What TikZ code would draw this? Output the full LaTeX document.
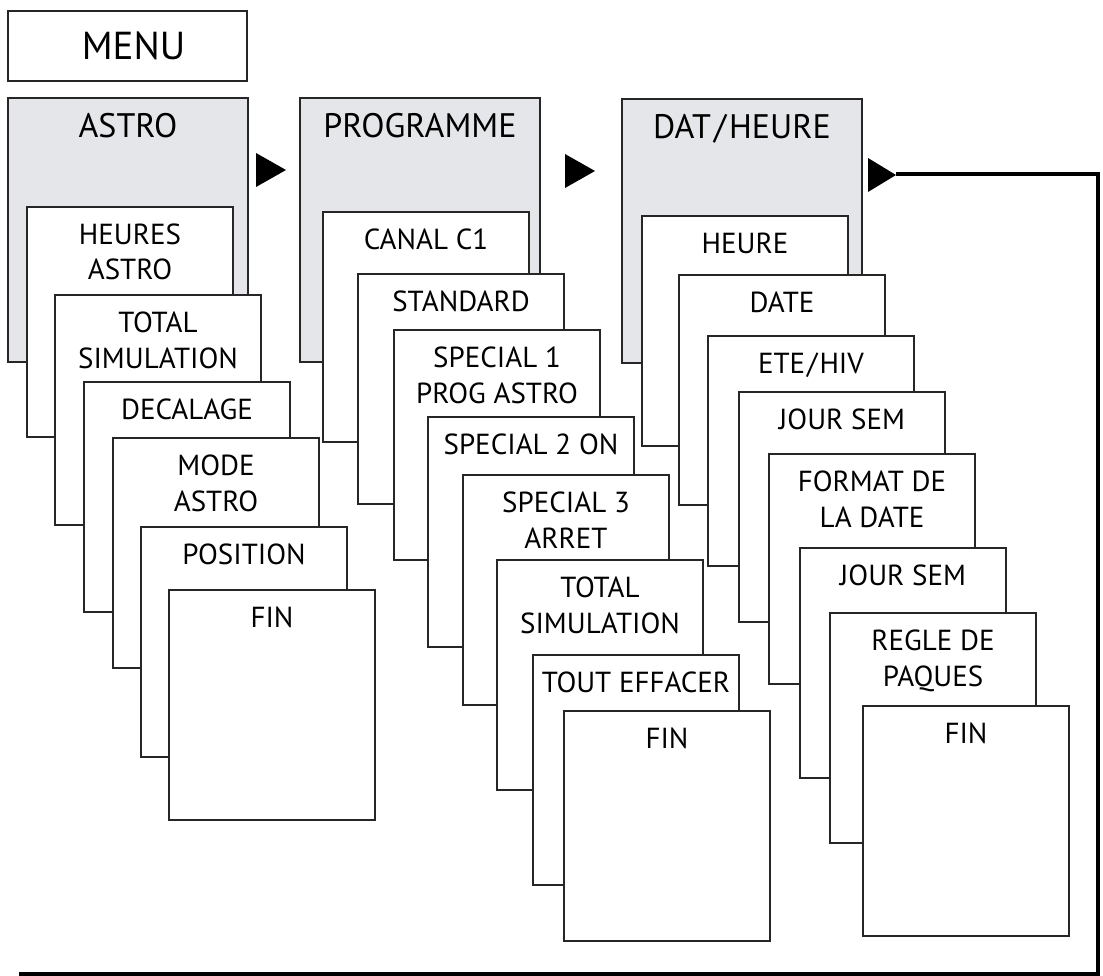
\documentclass[tikz,border=0pt]{standalone}
\usepackage{fontspec}
\setmainfont{PT Sans}
\definecolor{headgray}{RGB}{229,230,233}
\definecolor{linegray}{RGB}{38,38,38}
\newcommand\itemfont{\fontsize{29}{36}\selectfont}
\newcommand\headfont{\fontsize{34}{40}\selectfont}
\newcommand\menufont{\fontsize{39}{44}\selectfont}
\newcommand\boxtxt[1]{\parbox[c][230pt][t]{206pt}{\centering\rule{0pt}{37pt}#1}}
\newcommand\headtxt[1]{\parbox[c][264pt][t]{240pt}{\centering\rule{0pt}{40pt}#1}}
\begin{document}
\begin{tikzpicture}[x=1pt,y=-1pt,
  itembox/.style={draw=linegray, line width=2.2pt, fill=white, inner sep=0pt, outer sep=0pt, anchor=north west, font=\itemfont},
  headbox/.style={draw=linegray, line width=2.2pt, fill=headgray, inner sep=0pt, outer sep=0pt, anchor=north west, font=\headfont},
  menubox/.style={draw=linegray, line width=2.2pt, fill=white, inner sep=0pt, outer sep=0pt, anchor=north west, minimum width=239pt, minimum height=70pt, font=\menufont},
  marker/.style={fill=black},
  loopline/.style={draw=black, line width=3.6pt}
]
\useasboundingbox (0,0) rectangle (1103,976);

% menu
\node[menubox] (menu) at (8,11) {\hspace{12pt}MENU};

% headers
\node[headbox] (astro) at (8,98) {\headtxt{ASTRO}};
\node[headbox] (prog) at (300,98) {\headtxt{PROGRAMME}};
\node[headbox] (dat) at (622,99) {\headtxt{DAT\kern3pt/\kern3pt HEURE}};

% markers
\coordinate (m1a) at (256,153); \coordinate (m1b) at (256,187); \coordinate (m1c) at (286,170);
\coordinate (m2a) at (565,154); \coordinate (m2b) at (565,188); \coordinate (m2c) at (595,171);
\coordinate (m3a) at (868,158); \coordinate (m3b) at (868,192); \coordinate (m3c) at (896,175);
\fill[marker] (m1a) -- (m1c) -- (m1b) -- cycle;
\fill[marker] (m2a) -- (m2c) -- (m2b) -- cycle;
\fill[marker] (m3a) -- (m3c) -- (m3b) -- cycle;

% column 1
\node[itembox] (a1) at (27,207) {\boxtxt{HEURES\\ASTRO}};
\node[itembox] (a2) at (55,295) {\boxtxt{TOTAL\\SIMULATION}};
\node[itembox] (a3) at (84,382) {\boxtxt{DECALAGE}};
\node[itembox] (a4) at (113,438) {\boxtxt{MODE\\ASTRO}};
\node[itembox] (a5) at (141,527) {\boxtxt{POSITION}};
\node[itembox] (a6) at (169,590) {\boxtxt{FIN}};

% column 2
\node[itembox] (b1) at (323,212) {\boxtxt{CANAL C1}};
\node[itembox] (b2) at (358,274) {\boxtxt{STANDARD}};
\node[itembox] (b3) at (394,330) {\boxtxt{SPECIAL 1\\PROG ASTRO}};
\node[itembox] (b4) at (428,417) {\boxtxt{SPECIAL 2 ON}};
\node[itembox] (b5) at (463,475) {\boxtxt{SPECIAL 3\\ARRET}};
\node[itembox] (b6) at (497,560) {\boxtxt{TOTAL\\SIMULATION}};
\node[itembox] (b7) at (533,655) {\boxtxt{TOUT EFFACER}};
\node[itembox] (b8) at (564,711) {\boxtxt{FIN}};

% column 3
\node[itembox] (c1) at (642,216) {\boxtxt{HEURE}};
\node[itembox] (c2) at (679,275) {\boxtxt{DATE}};
\node[itembox] (c3) at (708,336) {\boxtxt{ETE\kern2pt/\kern2pt HIV}};
\node[itembox] (c4) at (739,392) {\boxtxt{JOUR SEM}};
\node[itembox] (c5) at (769,454) {\boxtxt{FORMAT DE\\LA DATE}};
\node[itembox] (c6) at (800,548) {\boxtxt{JOUR SEM}};
\node[itembox] (c7) at (830,613) {\boxtxt{REGLE DE\\PAQUES}};
\node[itembox] (c8) at (863,706) {\boxtxt{FIN}};

% return loop
\coordinate (r1) at (1098,174);
\coordinate (r2) at (1098,974);
\coordinate (r3) at (19,974);
\draw[loopline] (m3c |- r1) -- (r1) -- (r2) -- (r3);
\end{tikzpicture}
\end{document}
